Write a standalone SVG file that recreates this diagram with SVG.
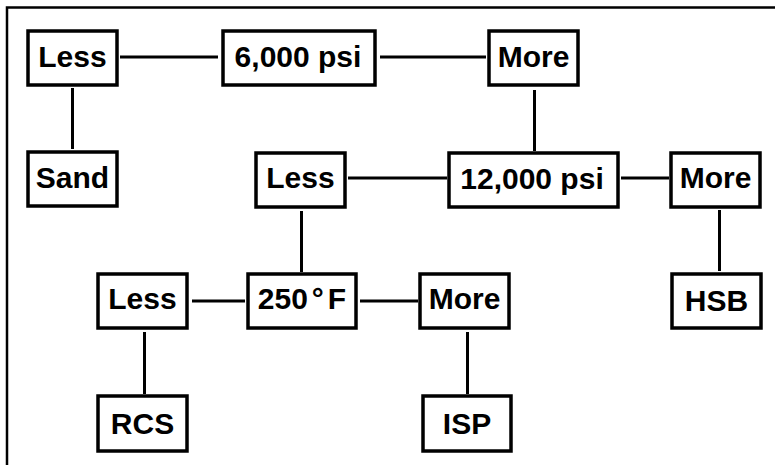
<svg xmlns="http://www.w3.org/2000/svg" width="775" height="465" viewBox="0 0 775 465">
<style>
.box{fill:#fff;stroke:#000;stroke-width:3.5}
.lbl{font-family:"Liberation Sans",Arial,sans-serif;font-weight:bold;font-size:30px;fill:#000;text-anchor:middle}
.conn line{stroke:#000;stroke-width:3}
.frame{fill:none;stroke:#000;stroke-width:2.5}
</style>
<rect width="775" height="465" fill="#fff"/>
<path class="frame" d="M7,465 V7.5 H775"/>
<g class="conn">
<line x1="120" y1="57" x2="218" y2="57"/>
<line x1="72.5" y1="88" x2="72.5" y2="149"/>
<line x1="380" y1="57" x2="486" y2="57"/>
<line x1="534.5" y1="90" x2="534.5" y2="151"/>
<line x1="348" y1="178" x2="447" y2="178"/>
<line x1="621" y1="178" x2="669" y2="178"/>
<line x1="301.5" y1="211" x2="301.5" y2="272"/>
<line x1="719.5" y1="210" x2="719.5" y2="271"/>
<line x1="192" y1="301" x2="245" y2="301"/>
<line x1="360" y1="301" x2="418" y2="301"/>
<line x1="144.5" y1="332" x2="144.5" y2="394"/>
<line x1="467.5" y1="332" x2="467.5" y2="394"/>
</g>
<g id="less1"><rect class="box" x="28" y="31" width="89" height="54"/><text class="lbl" x="72.5" y="67">Less</text></g>
<g id="psi6000"><rect class="box" x="223" y="31" width="152" height="54"/><text class="lbl" x="298" y="67">6,000 psi</text></g>
<g id="more1"><rect class="box" x="489" y="31" width="89" height="54"/><text class="lbl" x="533.5" y="67">More</text></g>
<g id="sand"><rect class="box" x="28" y="152" width="89" height="54"/><text class="lbl" x="72.5" y="188">Sand</text></g>
<g id="less2"><rect class="box" x="256" y="153" width="89" height="54"/><text class="lbl" x="300.5" y="188">Less</text></g>
<g id="psi12000"><rect class="box" x="449" y="153" width="169" height="54"/><text class="lbl" x="532" y="189">12,000 psi</text></g>
<g id="more2"><rect class="box" x="671" y="153" width="89" height="54"/><text class="lbl" x="715.5" y="188">More</text></g>
<g id="less3"><rect class="box" x="98" y="274" width="89" height="54"/><text class="lbl" x="142.5" y="309">Less</text></g>
<g id="temp250"><rect class="box" x="248" y="274" width="108" height="54"/><text class="lbl" x="302" y="309">250<tspan dx="4">°</tspan><tspan dx="4">F</tspan></text></g>
<g id="more3"><rect class="box" x="420" y="274" width="89" height="54"/><text class="lbl" x="464.5" y="309">More</text></g>
<g id="hsb"><rect class="box" x="672" y="274" width="89" height="54"/><text class="lbl" x="716.5" y="311">HSB</text></g>
<g id="rcs"><rect class="box" x="98" y="396" width="89" height="55"/><text class="lbl" x="142.5" y="434">RCS</text></g>
<g id="isp"><rect class="box" x="423" y="396" width="88" height="55"/><text class="lbl" x="467" y="434">ISP</text></g>
</svg>
